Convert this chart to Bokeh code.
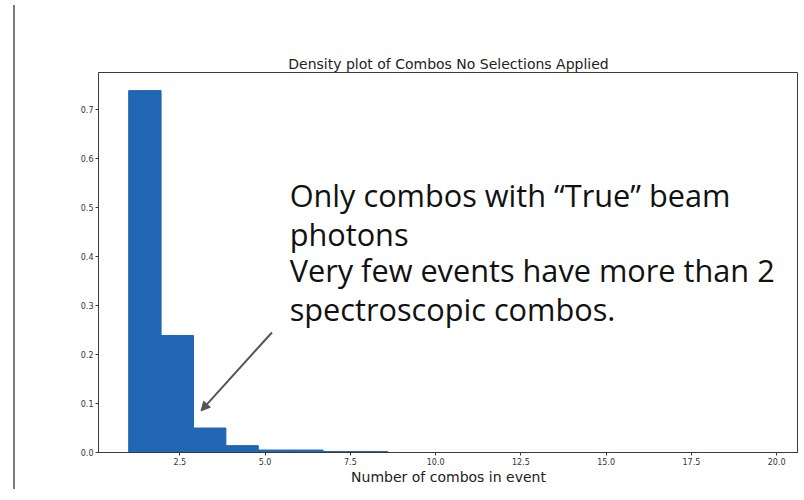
import numpy as np
from bokeh.plotting import figure
from bokeh.models import Div, Arrow, NormalHead, FixedTicker, CustomJSTickFormatter, ColumnDataSource, Title
from bokeh.layouts import row
from bokeh.core.properties import value
from bokeh.embed import file_html
from bokeh.resources import INLINE

# ---- data ----
title_text = "Density plot of Combos No Selections Applied"
x_label = "Number of combos in event"
bin_start = 1.0
bin_stop = 20.0
densities = [0.739, 0.239, 0.050, 0.014, 0.005, 0.005, 0.002, 0.002,
             0.0, 0.0, 0.0, 0.0, 0.0, 0.0, 0.0, 0.0, 0.0, 0.0, 0.0, 0.0]
x_ticks = [2.5, 5.0, 7.5, 10.0, 12.5, 15.0, 17.5, 20.0]
y_ticks = [0.0, 0.1, 0.2, 0.3, 0.4, 0.5, 0.6, 0.7]
note_lines = ["Only combos with \u201cTrue\u201d beam",
              "photons",
              "Very few events have more than 2",
              "spectroscopic combos."]

edges = np.linspace(bin_start, bin_stop, len(densities) + 1)
src = ColumnDataSource(dict(left=edges[:-1], right=edges[1:], top=densities,
                            bottom=[0.0] * len(densities)))

p = figure(width=778, height=484, output_backend="svg", toolbar_location=None,
           x_range=(0.115, 20.64), y_range=(0.0, 0.776),
           min_border_left=78, min_border_right=0, min_border_top=72, min_border_bottom=0)
p.background_fill_color = "white"
p.border_fill_color = "white"
p.outline_line_color = "#3a3a3a"
p.outline_line_width = 1
p.xgrid.visible = False
p.ygrid.visible = False

p.title.text = title_text
p.title.align = "center"
p.title.text_font = "DejaVu Sans"
p.title.text_font_size = "14px"
p.title.text_font_style = "normal"
p.title.text_color = "#222222"
p.title.standoff = 2

p.quad(left="left", right="right", top="top", bottom="bottom", source=src,
       fill_color="#2166b4", line_color="#2166b4", line_width=1)

for ax, ticks in ((p.xaxis[0], x_ticks), (p.yaxis[0], y_ticks)):
    ax.ticker = FixedTicker(ticks=ticks)
    ax.formatter = CustomJSTickFormatter(code="return tick.toFixed(1);")
    ax.major_label_text_font = "DejaVu Sans"
    ax.major_label_text_font_size = "8px"
    ax.major_label_text_color = "#333333"
    ax.major_tick_out = 3
    ax.major_tick_in = 0
    ax.minor_tick_out = 0
    ax.minor_tick_in = 0
    ax.axis_line_color = "#3a3a3a"
    ax.major_tick_line_color = "#3a3a3a"
    ax.major_label_standoff = 2

p.add_layout(Title(text=x_label, align="center", text_font="DejaVu Sans",
                   text_font_size="14px", text_font_style="normal",
                   text_color="#222222", standoff=-1), "below")

# annotation text
note_x = 5.72
note_y = [0.525, 0.446, 0.372, 0.294]
p.text(x=[note_x] * len(note_lines), y=note_y, text=note_lines,
       text_font=value("Open Sans"), text_font_size="30.7px", text_color="#111111",
       text_baseline="alphabetic", text_align="left")

p.add_layout(Arrow(x_start=5.2, y_start=0.245, x_end=3.12, y_end=0.085,
                   line_color="#555555", line_width=2,
                   end=NormalHead(size=9, fill_color="#555555", line_color="#555555")))

side = Div(text="", width=10, height=484,
           styles={"background": "linear-gradient(to right, transparent 8px, #7a7a7a 8px, #7a7a7a 10px, transparent 10px)"})

layout = row(side, p, spacing=0)
open("out.html", "w").write(file_html(layout, INLINE))
